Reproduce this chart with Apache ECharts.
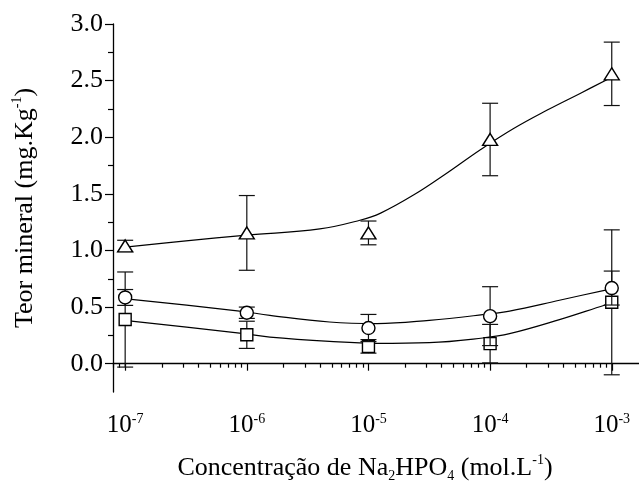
<!DOCTYPE html>
<html lang="pt">
<head>
    <meta charset="UTF-8">
    <title>Teor mineral</title>
    <script src="https://cdn.jsdelivr.net/npm/echarts@6/dist/echarts.min.js"></script>
    <style>
        html, body { margin: 0; padding: 0; background: #fff; }
    </style>
</head>
<body>
    <div id="main" style="width:639px;height:484px;"></div>

    <script>
        // eixo x em log10 da concentração
        const concLog = [-7, -6, -5, -4, -3];
        const xMajor = [-7, -6, -5, -4, -3];
        const yMajor = [0, 0.5, 1.0, 1.5, 2.0, 2.5, 3.0];
        const yMinor = [0.25, 0.75, 1.25, 1.75, 2.25, 2.75];

        // médias e desvios
        const triMean = [1.04, 1.155, 1.155, 1.98, 2.56];
        const triErr  = [0.05, 0.33, 0.105, 0.32, 0.28];
        const cirMean = [0.585, 0.45, 0.315, 0.42, 0.668];
        const cirErr  = [0.07, 0.05, 0.12, 0.26, 0.15];
        const sqMean  = [0.39, 0.255, 0.153, 0.177, 0.542];
        const sqErr   = [0.42, 0.12, 0.06, 0.17, 0.64];

        // curvas ajustadas (pontos lidos)
        const triFitLog = [-7, -6.5, -6, -5.4, -5.07, -4.9, -4.63, -4.36, -4.08, -3.81, -3.53, -3.26, -3];
        const triFitVal = [1.03, 1.085, 1.135, 1.19, 1.267, 1.33, 1.489, 1.68, 1.89, 2.075, 2.24, 2.387, 2.53];
        const cirFitLog = [-7, -6.93, -6.06, -5.81, -5.32, -4.93, -4.5, -4.06, -3.84, -3.43, -3.06, -3];
        const cirFitVal = [0.575, 0.566, 0.465, 0.427, 0.368, 0.354, 0.383, 0.433, 0.465, 0.56, 0.648, 0.66];
        const sqFitLog  = [-7, -6.93, -6.06, -5.81, -5.32, -4.93, -4.5, -4.06, -3.84, -3.43, -3.06, -3];
        const sqFitVal  = [0.38, 0.374, 0.27, 0.235, 0.197, 0.18, 0.186, 0.227, 0.265, 0.389, 0.516, 0.535];

        // marcas menores do eixo log: 2..9 x 10^n
        const xMinor = [];
        for (let n = -8; n <= -3; n++) {
            for (let k = 2; k <= 9; k++) {
                const v = n + Math.log10(k);
                if (v >= -7.1 && v <= -2.776) xMinor.push(v);
            }
        }

        const FONT = 'Liberation Serif';
        const X_MIN = -7.1, X_MAX = -2.776;

        function zip(xs, ys) {
            return xs.map((x, i) => [x, ys[i]]);
        }
        function errData(mean, err) {
            return concLog.map((x, i) => [x, mean[i] - err[i], mean[i] + err[i]]);
        }
        function renderErr(params, api) {
            const x = api.value(0);
            const top = api.coord([x, api.value(2)]);
            const bot = api.coord([x, api.value(1)]);
            const w = 8;
            const st = { stroke: '#111', lineWidth: 1.2 };
            return {
                type: 'group',
                children: [
                    { type: 'line', shape: { x1: top[0], y1: top[1], x2: bot[0], y2: bot[1] }, style: st },
                    { type: 'line', shape: { x1: top[0] - w, y1: top[1], x2: top[0] + w, y2: top[1] }, style: st },
                    { type: 'line', shape: { x1: bot[0] - w, y1: bot[1], x2: bot[0] + w, y2: bot[1] }, style: st }
                ]
            };
        }
        function fitLine(xs, ys, z) {
            return {
                type: 'line', data: zip(xs, ys), smooth: 0.4, showSymbol: false, z: z,
                lineStyle: { color: '#000', width: 1.2 }, silent: true
            };
        }
        function points(mean, symbol, size, z) {
            return {
                type: 'scatter', data: zip(concLog, mean), symbol: symbol, symbolSize: size, z: z,
                itemStyle: { color: '#fff', borderColor: '#000', borderWidth: 1.4, opacity: 1 }
            };
        }
        function errBars(mean, err, z) {
            return { type: 'custom', data: errData(mean, err), renderItem: renderErr, z: z, silent: true };
        }

        const option = {
            backgroundColor: '#fff',
            animation: false,
            textStyle: { fontFamily: FONT, color: '#000' },
            grid: { left: 113, right: 0, top: 24, bottom: 92, containLabel: false, outerBoundsMode: 'none' },
            xAxis: [{
                type: 'value', min: X_MIN, max: X_MAX,
                splitLine: { show: false },
                axisLine: { lineStyle: { color: '#000', width: 1.3 } },
                axisTick: { customValues: xMajor, length: 7, lineStyle: { color: '#000', width: 1.2 } },
                axisLabel: {
                    customValues: xMajor, margin: 20,
                    formatter: v => '{b|10}{s|' + v + '}',
                    rich: {
                        b: { fontFamily: FONT, fontSize: 25, color: '#000', lineHeight: 27 },
                        s: { fontFamily: FONT, fontSize: 14, color: '#000', verticalAlign: 'top', lineHeight: 14 }
                    }
                },
                name: '{t|Concentração de Na}{sub|2}{t|HPO}{sub|4}{t| (mol.L}{sup|-1}{t|)}',
                nameLocation: 'middle', nameGap: 61,
                nameTextStyle: {
                    padding: [0, 22, 0, 0],
                    rich: {
                        t: { fontFamily: FONT, fontSize: 26, color: '#000', lineHeight: 30 },
                        sub: { fontFamily: FONT, fontSize: 14, color: '#000', verticalAlign: 'bottom', lineHeight: 14 },
                        sup: { fontFamily: FONT, fontSize: 14, color: '#000', verticalAlign: 'top', lineHeight: 16 }
                    }
                }
            }, {
                type: 'value', min: X_MIN, max: X_MAX, position: 'bottom',
                splitLine: { show: false },
                axisLine: { show: false },
                axisLabel: { show: false },
                axisTick: { customValues: xMinor, length: 4, lineStyle: { color: '#000', width: 1.2 } }
            }],
            yAxis: [{
                type: 'value', min: -0.25, max: 3.0,
                splitLine: { show: false },
                axisLine: { show: true, lineStyle: { color: '#000', width: 1.3 } },
                axisTick: { show: true, customValues: yMajor, length: 8, lineStyle: { color: '#000', width: 1.2 } },
                axisLabel: {
                    customValues: yMajor, margin: 10,
                    formatter: v => v.toFixed(1),
                    fontFamily: FONT, fontSize: 26, color: '#000'
                },
                name: '{t|Teor mineral (mg.Kg}{sup|-1}{t|)}',
                nameLocation: 'middle', nameGap: 73,
                nameTextStyle: {
                    rich: {
                        t: { fontFamily: FONT, fontSize: 26, color: '#000', lineHeight: 30 },
                        sup: { fontFamily: FONT, fontSize: 14, color: '#000', verticalAlign: 'top', lineHeight: 16 }
                    }
                }
            }, {
                type: 'value', min: -0.25, max: 3.0, position: 'left',
                splitLine: { show: false },
                axisLine: { show: false },
                axisLabel: { show: false },
                axisTick: { show: true, customValues: yMinor, length: 5, lineStyle: { color: '#000', width: 1.2 } }
            }],
            series: [
                fitLine(sqFitLog, sqFitVal, 2),
                fitLine(cirFitLog, cirFitVal, 2),
                fitLine(triFitLog, triFitVal, 2),
                errBars(sqMean, sqErr, 3),
                points(sqMean, 'rect', 12, 4),
                errBars(cirMean, cirErr, 5),
                points(cirMean, 'circle', 13, 6),
                errBars(triMean, triErr, 7),
                points(triMean, 'triangle', [15, 12], 8)
            ]
        };

        const myChart = echarts.init(document.getElementById('main'));
        myChart.setOption(option);
    </script>
</body>
</html>
